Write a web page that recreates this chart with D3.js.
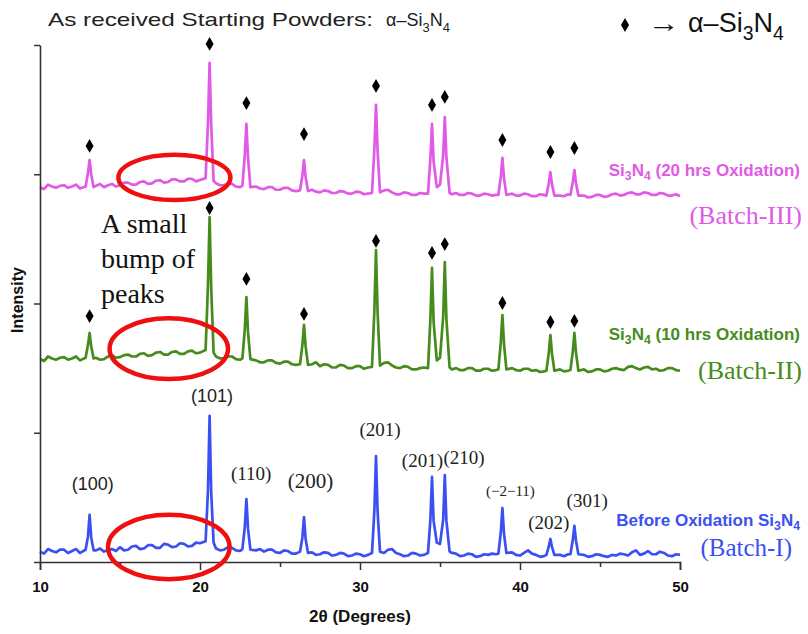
<!DOCTYPE html>
<html>
<head>
<meta charset="utf-8">
<script src="https://cdn.jsdelivr.net/npm/d3@7"></script>
<style>
  body { margin: 0; background: #fff; }
  svg { display: block; }
</style>
</head>
<body>
<svg width="808" height="634"></svg>
<script>
// ---- data (2theta in degrees, intensity in arbitrary stacked counts) ----
var xTicks = [10, 20, 30, 40, 50];
var xMinorTicks = [15, 25, 35, 45];
var yTicks = [0, 1000, 2000, 3000, 4000];

// baselines read every 0.25 deg from 10 to 50 (one row = 2 deg)
var blueBase = [
  80, 65, 100, 85, 75, 95, 95, 70,
  85, 100, 70, 85, 90, 80, 90, 105,
  80, 95, 100, 85, 115, 90, 95, 120,
  125, 100, 105, 130, 130, 110, 110, 140,
  135, 115, 120, 145, 140, 120, 125, 150,
  145, 150, 150, 130, 105, 90, 95, 115,
  110, 90, 85, 100, 95, 80, 90, 100,
  80, 95, 95, 75, 70, 90, 85, 65,
  65, 80, 70, 75, 75, 55, 60, 75,
  70, 50, 55, 70, 65, 45, 50, 65,
  60, 45, 55, 70, 60, 55, 70, 95,
  100, 70, 60, 45, 50, 70, 65, 50,
  55, 70, 60, 60, 80, 60, 60, 70,
  65, 45, 50, 65, 60, 40, 45, 60,
  55, 65, 60, 60, 60, 70, 75, 55,
  50, 70, 90, 65, 55, 40, 45, 60,
  50, 65, 55, 45, 60, 55, 55, 65,
  55, 40, 45, 60, 55, 45, 40, 55,
  50, 65, 60, 50, 75, 90, 55, 65,
  85, 60, 60, 80, 70, 50, 45, 60,
  55
];
var greenBase = [
  1570, 1555, 1590, 1575, 1565, 1580, 1585, 1565,
  1575, 1590, 1560, 1575, 1580, 1580, 1580, 1565,
  1570, 1590, 1600, 1580, 1585, 1600, 1605, 1590,
  1590, 1610, 1615, 1595, 1600, 1620, 1625, 1605,
  1605, 1625, 1630, 1610, 1610, 1630, 1635, 1615,
  1620, 1635, 1630, 1610, 1590, 1575, 1575, 1590,
  1590, 1570, 1565, 1580, 1570, 1570, 1560, 1545,
  1545, 1560, 1560, 1540, 1535, 1550, 1550, 1530,
  1525, 1540, 1530, 1530, 1530, 1545, 1515, 1530,
  1525, 1505, 1505, 1525, 1520, 1500, 1500, 1515,
  1515, 1495, 1505, 1500, 1510, 1525, 1540, 1545,
  1520, 1505, 1500, 1515, 1510, 1490, 1490, 1500,
  1505, 1490, 1500, 1500, 1520, 1500, 1505, 1490,
  1500, 1485, 1485, 1500, 1500, 1480, 1480, 1495,
  1495, 1480, 1485, 1495, 1490, 1490, 1500, 1485,
  1480, 1495, 1495, 1480, 1485, 1470, 1475, 1490,
  1480, 1495, 1490, 1475, 1480, 1480, 1485, 1495,
  1490, 1470, 1475, 1490, 1490, 1475, 1480, 1495,
  1500, 1490, 1485, 1510, 1515, 1500, 1490, 1505,
  1510, 1490, 1495, 1480, 1485, 1500, 1500, 1485,
  1480
];
var pinkBase = [
  2900, 2885, 2920, 2905, 2895, 2910, 2915, 2895,
  2905, 2920, 2890, 2905, 2905, 2900, 2910, 2925,
  2900, 2915, 2925, 2905, 2915, 2935, 2935, 2920,
  2920, 2940, 2945, 2925, 2930, 2950, 2955, 2935,
  2940, 2960, 2960, 2945, 2945, 2965, 2965, 2945,
  2955, 2970, 2960, 2940, 2930, 2915, 2915, 2930,
  2925, 2905, 2900, 2915, 2905, 2905, 2905, 2890,
  2885, 2900, 2900, 2880, 2880, 2895, 2895, 2875,
  2870, 2885, 2875, 2875, 2880, 2865, 2860, 2875,
  2870, 2855, 2855, 2870, 2865, 2850, 2850, 2865,
  2862, 2845, 2850, 2860, 2855, 2865, 2875, 2880,
  2860, 2845, 2845, 2860, 2855, 2840, 2840, 2855,
  2850, 2840, 2850, 2860, 2870, 2860, 2860, 2845,
  2855, 2840, 2840, 2855, 2850, 2835, 2835, 2850,
  2845, 2835, 2840, 2850, 2840, 2840, 2850, 2835,
  2835, 2850, 2845, 2830, 2830, 2845, 2840, 2825,
  2835, 2845, 2835, 2830, 2845, 2840, 2840, 2850,
  2835, 2820, 2825, 2840, 2840, 2825, 2830, 2845,
  2850, 2835, 2840, 2855, 2860, 2845, 2845, 2860,
  2855, 2840, 2840, 2855, 2850, 2835, 2835, 2845,
  2830
];

// peak profiles [2theta, intensity]
var bluePeaks = [
  [12.85, 95], [13.0, 200], [13.1, 364], [13.2, 190], [13.35, 90],
  [20.35, 160], [20.5, 560], [20.6, 1130], [20.7, 540], [20.85, 150],
  [22.65, 100], [22.8, 270], [22.9, 487], [23.0, 260], [23.15, 95],
  [26.25, 80], [26.4, 190], [26.5, 348], [26.6, 180], [26.75, 70],
  [30.75, 70], [30.9, 400], [31.0, 820], [31.1, 390], [31.25, 80],
  [34.25, 70], [34.4, 330], [34.5, 658], [34.6, 320], [34.8, 150],
  [35.0, 140], [35.2, 330], [35.3, 673], [35.4, 320], [35.6, 80],
  [38.65, 65], [38.8, 230], [38.9, 418], [39.0, 220], [39.15, 70],
  [41.65, 55], [41.8, 120], [41.9, 178], [42.0, 115], [42.15, 55],
  [43.15, 60], [43.3, 170], [43.4, 279], [43.5, 165], [43.65, 60]
];
var greenPeaks = [
  [12.85, 1580], [13.0, 1680], [13.1, 1772], [13.2, 1670], [13.35, 1575],
  [20.35, 1640], [20.5, 2150], [20.6, 2669], [20.7, 2120], [20.85, 1620],
  [22.65, 1575], [22.8, 1800], [22.9, 2050], [23.0, 1780], [23.15, 1570],
  [26.25, 1530], [26.4, 1680], [26.5, 1834], [26.6, 1670], [26.75, 1525],
  [30.75, 1510], [30.9, 1950], [31.0, 2414], [31.1, 1930], [31.25, 1520],
  [34.25, 1500], [34.4, 1880], [34.5, 2275], [34.6, 1860], [34.8, 1560],
  [35.0, 1580], [35.2, 1900], [35.3, 2321], [35.4, 1880], [35.6, 1505],
  [38.65, 1490], [38.8, 1700], [38.9, 1911], [39.0, 1690], [39.15, 1490],
  [41.65, 1480], [41.8, 1620], [41.9, 1756], [42.0, 1610], [42.15, 1480],
  [43.15, 1485], [43.3, 1630], [43.4, 1772], [43.5, 1620], [43.65, 1480]
];
var pinkPeaks = [
  [12.85, 2905], [13.0, 3010], [13.1, 3110], [13.2, 3000], [13.35, 2900],
  [20.35, 2970], [20.5, 3400], [20.6, 3861], [20.7, 3380], [20.85, 2950],
  [22.65, 2910], [22.8, 3150], [22.9, 3389], [23.0, 3130], [23.15, 2900],
  [26.25, 2875], [26.4, 2990], [26.5, 3110], [26.6, 2980], [26.75, 2870],
  [30.75, 2855], [30.9, 3200], [31.0, 3536], [31.1, 3180], [31.25, 2860],
  [34.25, 2850], [34.4, 3120], [34.5, 3389], [34.6, 3100], [34.8, 2900],
  [35.0, 2920], [35.2, 3150], [35.3, 3443], [35.4, 3130], [35.6, 2855],
  [38.65, 2840], [38.8, 2980], [38.9, 3126], [39.0, 2970], [39.15, 2840],
  [41.65, 2835], [41.8, 2930], [41.9, 3017], [42.0, 2920], [42.15, 2835],
  [43.15, 2840], [43.3, 2940], [43.4, 3033], [43.5, 2930], [43.65, 2835]
];

// alpha-Si3N4 markers
var pinkMarks = [[13.1, 3219], [20.6, 4008], [22.9, 3551], [26.5, 3311], [31.0, 3683],
  [34.5, 3536], [35.3, 3598], [38.9, 3265], [41.9, 3172], [43.4, 3203]];
var greenMarks = [[13.1, 1903], [20.6, 2739], [22.9, 2190], [26.5, 1919], [31.0, 2484],
  [34.5, 2391], [35.3, 2460], [38.9, 2004], [41.9, 1857], [43.4, 1865]];

// hkl labels on the bottom trace [text, 2theta, intensity, font]
var hklLabels = [
  ["(100)", 13.3, 557, "sans"],
  ["(101)", 20.75, 1238, "sans"],
  ["(110)", 23.2, 634, "serif"],
  ["(200)", 26.9, 572, "serif"],
  ["(201)", 31.25, 975, "serif"],
  ["(201)", 33.9, 735, "serif"],
  ["(210)", 36.5, 758, "serif"],
  ["(\u22122\u221211)", 39.4, 511, "serif"],
  ["(202)", 41.8, 255, "serif"],
  ["(301)", 44.2, 425, "serif"]
];

// red circles [2theta centre, intensity centre, 2theta radius, intensity radius]
var bumpRings = [[18.4, 2975, 3.5, 175], [18.05, 1650, 3.7, 235], [18.05, 116, 3.8, 250]];

var SANS = "'Liberation Sans', Arial, Helvetica, sans-serif";
var SERIF = "'Liberation Serif', 'Times New Roman', serif";

var svg = d3.select("svg"),
    margin = { top: 45, right: 128, bottom: 72, left: 40 },
    width = +svg.attr("width") - margin.left - margin.right,
    height = +svg.attr("height") - margin.top - margin.bottom,
    g = svg.append("g").attr("transform", "translate(" + margin.left + "," + margin.top + ")");

var x = d3.scaleLinear().domain([10, 50]).range([0, width]);
var y = d3.scaleLinear().domain([0, 4000]).range([height, 0]);

// baseline samples + peak profiles, merged in 2theta order
function trace(base, peaks) {
  var pts = base.map((v, i) => [10 + i * 0.25, v]);
  pts = pts.filter(p => !peaks.some(q => Math.abs(q[0] - p[0]) < 0.12));
  return pts.concat(peaks).sort((a, b) => a[0] - b[0]);
}

var line = d3.line()
    .x(d => x(d[0]))
    .y(d => y(d[1]));

var series = [
  { data: trace(pinkBase, pinkPeaks), color: "#e05ae6" },
  { data: trace(greenBase, greenPeaks), color: "#468c1c" },
  { data: trace(blueBase, bluePeaks), color: "#3b50f2" }
];

g.selectAll(".trace")
  .data(series)
  .enter().append("path")
    .attr("class", "trace")
    .attr("fill", "none")
    .attr("stroke", d => d.color)
    .attr("stroke-width", 2.7)
    .attr("stroke-linejoin", "round")
    .attr("d", d => line(d.data));

// axes
var xAxis = g.append("g")
    .attr("transform", "translate(0," + height + ")")
    .call(d3.axisBottom(x).tickValues(xTicks).tickSize(8).tickFormat(d3.format("d")));
g.append("g")
    .attr("transform", "translate(0," + height + ")")
    .call(d3.axisBottom(x).tickValues(xMinorTicks).tickSize(5).tickFormat(""))
    .select(".domain").remove();
g.append("g")
    .call(d3.axisLeft(y).tickValues(yTicks).tickSize(6).tickSizeOuter(0).tickFormat(""));

g.selectAll(".domain").attr("stroke", "#333").attr("stroke-width", 1.6);
g.selectAll(".tick line").attr("stroke", "#333").attr("stroke-width", 1.5);
xAxis.selectAll(".tick text")
    .attr("fill", "#111")
    .attr("font-family", SANS)
    .attr("font-weight", "bold")
    .attr("font-size", 15)
    .attr("dy", "1.25em");

svg.append("text")
    .attr("x", margin.left + width / 2)
    .attr("y", 622)
    .attr("text-anchor", "middle")
    .attr("font-family", SANS)
    .attr("font-weight", "bold")
    .attr("font-size", 17)
    .attr("fill", "#111")
    .text("2\u03b8 (Degrees)");

svg.append("text")
    .attr("transform", "translate(23,300) rotate(-90)")
    .attr("text-anchor", "middle")
    .attr("font-family", SANS)
    .attr("font-weight", "bold")
    .attr("font-size", 16)
    .attr("fill", "#111")
    .text("Intensity");

// markers
var diamond = d3.symbol().type(d3.symbolDiamond).size(55);
g.selectAll(".mark")
  .data(pinkMarks.concat(greenMarks))
  .enter().append("path")
    .attr("class", "mark")
    .attr("transform", d => "translate(" + x(d[0]) + "," + y(d[1]) + ")")
    .attr("d", diamond)
    .attr("fill", "#000");

// hkl labels
g.selectAll(".hkl")
  .data(hklLabels)
  .enter().append("text")
    .attr("class", "hkl")
    .attr("x", d => x(d[1]))
    .attr("y", d => y(d[2]))
    .attr("text-anchor", "middle")
    .attr("font-family", d => d[3] == "sans" ? SANS : SERIF)
    .attr("font-size", d => d[0] == "(200)" ? 21 : d[0].length > 5 ? 15 : d[3] == "sans" ? 18 : 19)
    .attr("fill", "#222")
    .text(d => d[0]);

// red ellipses
g.selectAll(".ring")
  .data(bumpRings)
  .enter().append("ellipse")
    .attr("class", "ring")
    .attr("cx", d => x(d[0]))
    .attr("cy", d => y(d[1]))
    .attr("rx", d => x(d[0] + d[2]) - x(d[0]))
    .attr("ry", d => y(d[1] - d[3]) - y(d[1]))
    .attr("fill", "none")
    .attr("stroke", "#ee1010")
    .attr("stroke-width", 4.5);

// Si3N4 with subscripts
function siN(sel, before, after, shift) {
  if (before) sel.append("tspan").text(before);
  sel.append("tspan").text("Si");
  sel.append("tspan").attr("font-size", "0.72em").attr("dy", shift).text("3");
  sel.append("tspan").attr("dy", -shift).text("N");
  sel.append("tspan").attr("font-size", "0.72em").attr("dy", shift).text("4");
  if (after) sel.append("tspan").attr("dy", -shift).text(after);
}

// series labels
var lab1 = svg.append("text").attr("x", 800).attr("y", 176).attr("text-anchor", "end")
    .attr("font-family", SANS).attr("font-weight", "bold").attr("font-size", 17).attr("fill", "#e05ae6");
siN(lab1, null, " (20 hrs Oxidation)", 4);
svg.append("text").attr("x", 802).attr("y", 224).attr("text-anchor", "end")
    .attr("font-family", SERIF).attr("font-size", 26).attr("fill", "#e05ae6").text("(Batch-III)");

var lab2 = svg.append("text").attr("x", 800).attr("y", 340).attr("text-anchor", "end")
    .attr("font-family", SANS).attr("font-weight", "bold").attr("font-size", 17).attr("fill", "#468c1c");
siN(lab2, null, " (10 hrs Oxidation)", 4);
svg.append("text").attr("x", 802).attr("y", 379).attr("text-anchor", "end")
    .attr("font-family", SERIF).attr("font-size", 26).attr("fill", "#468c1c").text("(Batch-II)");

var lab3 = svg.append("text").attr("x", 800).attr("y", 526).attr("text-anchor", "end")
    .attr("font-family", SANS).attr("font-weight", "bold").attr("font-size", 17).attr("fill", "#3b50f2");
siN(lab3, "Before Oxidation ", null, 4);
svg.append("text").attr("x", 792).attr("y", 556).attr("text-anchor", "end")
    .attr("font-family", SERIF).attr("font-size", 25).attr("fill", "#3b50f2").text("(Batch-I)");

// annotation text
var note = svg.append("text").attr("font-family", SERIF).attr("font-size", 28).attr("fill", "#111");
["A small", "bump of", "peaks"].forEach((t, i) => {
  note.append("tspan").attr("x", 101).attr("y", 233 + i * 35).text(t);
});

// title
svg.append("text").attr("x", 48).attr("y", 26)
    .attr("font-family", SANS).attr("font-size", 19).attr("fill", "#222")
    .attr("textLength", 325).attr("lengthAdjust", "spacingAndGlyphs")
    .text("As received Starting Powders:");
var t2 = svg.append("text").attr("x", 386).attr("y", 26)
    .attr("font-family", SANS).attr("font-size", 18).attr("fill", "#222");
siN(t2, "\u03b1\u2013", null, 6);

// legend
svg.append("path")
    .attr("transform", "translate(625,25)")
    .attr("d", diamond)
    .attr("fill", "#000");
svg.append("text").attr("x", 648).attr("y", 32)
    .attr("font-family", SANS).attr("font-size", 26).attr("fill", "#111")
    .attr("textLength", 32).attr("lengthAdjust", "spacingAndGlyphs")
    .text("\u2192");
var leg = svg.append("text").attr("x", 688).attr("y", 32)
    .attr("font-family", SANS).attr("font-size", 27).attr("fill", "#111");
siN(leg, "\u03b1\u2013", null, 8);
</script>
</body>
</html>
